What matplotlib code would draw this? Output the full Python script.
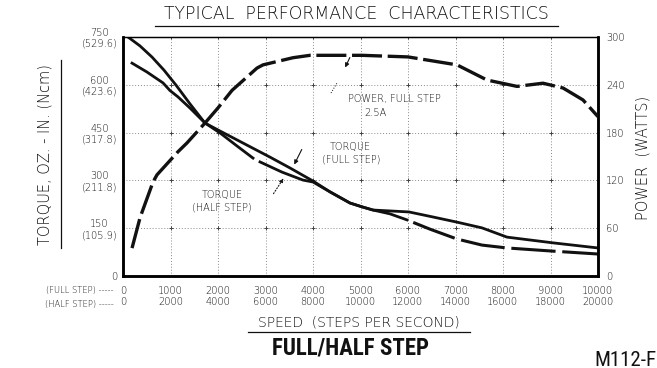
import matplotlib
matplotlib.use("Agg")
import matplotlib.pyplot as plt
from matplotlib.lines import Line2D
from matplotlib import font_manager

# ---------------- data (speed in full steps/s; torque oz-in; power W) ----------------
torque_full_x = [190, 505, 842, 989, 1158, 1410, 1726, 2042, 2568, 3095, 3516, 4000,
                 4358, 4779, 5032, 5263, 6021, 6500, 7032, 7558, 8084, 8568, 9053, 10000]
torque_full_y = [668, 640, 606, 582, 562, 527, 480, 455, 414, 373, 339, 298,
                 264, 229, 217, 207, 201, 186, 169, 151, 122, 113, 104, 88]

torque_half_x = [105, 358, 611, 863, 1116, 1411, 1726, 2042, 2400, 2737, 2884, 3347, 3789, 4000,
                 4358, 4779, 5032, 5263, 5621, 5979, 6463, 7032, 7558, 8084, 9053, 10000]
torque_half_y = [750, 722, 687, 646, 599, 540, 480, 449, 408, 370, 358, 326, 301, 295,
                 264, 229, 217, 207, 195, 176, 147, 116, 97, 88, 78, 69]

power_x = [190, 358, 400, 632, 716, 1158, 1347, 1726, 2000, 2295, 2821, 2947, 3579, 3937,
           4358, 5032, 6000, 7032, 7663, 8295, 8842, 9263, 9684, 10000]
power_y = [35, 73, 80, 118, 127, 156, 167, 192, 211, 233, 261, 265, 274, 277,
           277, 277, 275, 265, 246, 238, 242, 236, 221, 200]

x_ticks = [0, 1000, 2000, 3000, 4000, 5000, 6000, 7000, 8000, 9000, 10000]
x_labels_full = ["0", "1000", "2000", "3000", "4000", "5000", "6000", "7000", "8000", "9000", "10000"]
x_labels_half = ["0", "2000", "4000", "6000", "8000", "10000", "12000", "14000", "16000", "18000", "20000"]
y_ticks = [0, 150, 300, 450, 600, 750]
y_labels = ["0", "150\n(105.9)", "300\n(211.8)", "450\n(317.8)", "600\n(423.6)", "750\n(529.6)"]
p_ticks = [0, 60, 120, 180, 240, 300]
p_labels = ["0", "60", "120", "180", "240", "300"]

# ---------------- fonts ----------------
available = {f.name for f in font_manager.fontManager.ttflist}
narrow = None
for cand in ["Liberation Sans Narrow", "Roboto Condensed", "DejaVu Sans Condensed", "Open Sans Condensed"]:
    if cand in available:
        narrow = cand
        break

# ---------------- figure ----------------
W, H = 657, 368
fig = plt.figure(figsize=(W / 100, H / 100), dpi=100)
fig.patch.set_facecolor("white")
L, R, T, B = 123, 598, 37, 276
ax = fig.add_axes([L / W, 1 - B / H, (R - L) / W, (B - T) / H])
ax2 = ax.twinx()

INK = "#111111"
txt = dict(color=INK, family=["DejaVu Sans"], fontweight="light")

ax.set_xlim(0, 10000)
ax.set_ylim(0, 750)
ax2.set_ylim(0, 300)

def fx(px):
    return (px - L) / (R - L) * 10000

def fy(py):
    return (B - py) / (B - T) * 750

# grid
for xv in x_ticks[1:-1]:
    ax.axvline(xv, color="#8a8a8a", lw=0.7, ls=(0, (1, 2)), zorder=1)
for yv in y_ticks[1:-1]:
    ax.axhline(yv, color="#8a8a8a", lw=0.7, ls=(0, (1, 2)), zorder=1)
for xv in x_ticks[1:-1]:
    for yv in y_ticks[1:]:
        ax.plot(xv, yv, marker="+", ms=3, mew=0.7, color="#444444", zorder=2)

# curves
ax.plot(torque_full_x, torque_full_y, color="#111111", lw=2.0, solid_joinstyle="round", zorder=4)
ax.plot(torque_half_x[:10], torque_half_y[:10], color="#111111", lw=2.0, solid_joinstyle="round", zorder=4)
ax.plot(torque_half_x[10:20], torque_half_y[10:20], color="#111111", lw=2.0, solid_joinstyle="round", zorder=4)
ax.plot(torque_half_x[19:], torque_half_y[19:], color="#111111", lw=2.2, ls=(14.5, (14.5, 2.2)), zorder=4)
ax2.plot(power_x, power_y, color="#111111", lw=2.4, ls=(0, (9, 1.7)), zorder=4)

# spines
for a in (ax, ax2):
    for s in ["left", "bottom", "right"]:
        a.spines[s].set_linewidth(1.8)
    a.spines["top"].set_linewidth(0.9)

# ticks
ax.set_xticks(x_ticks)
ax.set_xticklabels([f"{a}\n{b}" for a, b in zip(x_labels_full, x_labels_half)],
                   fontsize=7, color=INK, linespacing=1.2, fontweight="light")
ax.set_yticks(y_ticks)
ax.set_yticklabels(y_labels, fontsize=7, color=INK, multialignment="center", linespacing=1.1,
                   fontweight="light")
ax2.set_yticks(p_ticks)
ax2.set_yticklabels(p_labels, fontsize=7, color=INK, fontweight="light")
ax.tick_params(axis="y", length=0, pad=4)
ax2.tick_params(length=0, pad=6)
ax.tick_params(axis="x", length=0, pad=7)

# row labels for x axis
fig.text(114 / W, 1 - 291 / H, "(FULL STEP) -----", ha="right", va="center", fontsize=6, **txt)
fig.text(114 / W, 1 - 304 / H, "(HALF STEP) -----", ha="right", va="center", fontsize=6, **txt)

# titles / labels
fig.text(356 / W, 1 - 14 / H, "TYPICAL  PERFORMANCE  CHARACTERISTICS", ha="center", va="center",
         fontsize=12.5, **txt)
fig.add_artist(Line2D([155 / W, 558 / W], [1 - 26 / H, 1 - 26 / H], color=INK, lw=0.9))

fig.text(359 / W, 1 - 322 / H, "SPEED  (STEPS PER SECOND)", ha="center", va="center", fontsize=10, **txt)
fig.add_artist(Line2D([248 / W, 470 / W], [1 - 332 / H, 1 - 332 / H], color=INK, lw=0.9))

if narrow:
    fig.text(350 / W, 1 - 348 / H, "FULL/HALF STEP", ha="center", va="center", fontsize=16.5,
             fontweight="bold", family=[narrow, "DejaVu Sans"], color="#111111")
    fig.text(594 / W, 1 - 360 / H, "M112-F", ha="left", va="center", fontsize=15,
             family=[narrow, "DejaVu Sans"], color="#111111")
else:
    fig.text(350 / W, 1 - 348 / H, "FULL/HALF STEP", ha="center", va="center", fontsize=13,
             fontweight="bold", family=["DejaVu Sans"], color="#111111")
    fig.text(594 / W, 1 - 360 / H, "M112-F", ha="left", va="center", fontsize=12,
             family=["DejaVu Sans"], color="#111111")

fig.text(45 / W, 1 - 155 / H, "TORQUE, OZ. - IN. (Ncm)", ha="center", va="center", rotation=90,
         fontsize=10.5, **txt)
fig.add_artist(Line2D([61 / W, 61 / W], [1 - 60 / H, 1 - 248 / H], color=INK, lw=0.9))
fig.text(643 / W, 1 - 158 / H, "POWER  (WATTS)", ha="center", va="center", rotation=90,
         fontsize=10.5, **txt)

# annotations
ax.text(fx(348), fy(99), "POWER, FULL STEP", fontsize=7, ha="left", va="center", **txt)
ax.text(fx(364), fy(113), "2.5A", fontsize=7, ha="left", va="center", **txt)
ax.annotate("", xy=(fx(344), fy(70)), xytext=(fx(351), fy(55)),
            arrowprops=dict(arrowstyle="-|>", color=INK, lw=0.8, mutation_scale=6))
ax.plot([fx(331), fx(337)], [fy(93), fy(83)], color=INK, lw=0.7, ls=":")

ax.text(fx(350), fy(147), "TORQUE", fontsize=7, ha="center", va="center", **txt)
ax.text(fx(351), fy(160), "(FULL STEP)", fontsize=7, ha="center", va="center", **txt)
ax.annotate("", xy=(fx(293), fy(167)), xytext=(fx(303), fy(147)),
            arrowprops=dict(arrowstyle="-|>", color=INK, lw=0.8, mutation_scale=6))

ax.text(fx(222), fy(195), "TORQUE", fontsize=7, ha="center", va="center", **txt)
ax.text(fx(222), fy(208), "(HALF STEP)", fontsize=7, ha="center", va="center", **txt)
ax.annotate("", xy=(fx(285), fy(176)), xytext=(fx(272), fy(196)),
            arrowprops=dict(arrowstyle="-|>", color=INK, lw=0.8, ls=":", mutation_scale=6))

fig.savefig("out.png", dpi=100, facecolor="white")
